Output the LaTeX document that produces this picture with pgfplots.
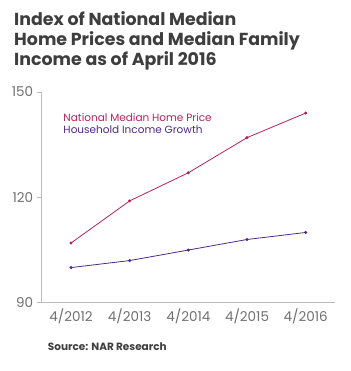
\documentclass[border=0pt]{standalone}
\usepackage{fontspec}
\setmainfont{Poppins}
\usepackage{pgfplots}
\pgfplotsset{compat=1.18}
\definecolor{homec}{HTML}{B3245E}
\definecolor{incc}{HTML}{4E2A84}
\definecolor{titc}{HTML}{3E3E3E}
\definecolor{tickc}{HTML}{707070}
\definecolor{axc}{HTML}{BBBBBB}
\begin{document}
\begin{tikzpicture}
\path[use as bounding box] (0pt,0pt) rectangle (350pt,-371pt);
\node[anchor=base west, inner sep=0, font=\fontsize{17.4}{20}\selectfont\bfseries, text=titc] at (14pt,-26pt) {Index of National Median};
\node[anchor=base west, inner sep=0, font=\fontsize{17.4}{20}\selectfont\bfseries, text=titc] at (14pt,-46pt) {Home Prices and Median Family};
\node[anchor=base west, inner sep=0, font=\fontsize{17.4}{20}\selectfont\bfseries, text=titc] at (14pt,-66pt) {Income as of April 2016};
\node[anchor=base west, inner sep=0, font=\fontsize{10.5}{12}\selectfont\bfseries, text=titc] at (47.7pt,-350pt) {Source: NAR Research};
\begin{axis}[
  at={(41.7pt,-302.7pt)}, anchor=south west,
  scale only axis, width=293.3pt, height=210.7pt,
  xmin=-0.5, xmax=4.5, ymin=90, ymax=150,
  axis lines*=left,
  axis line style={axc, line width=0.8pt, -},
  xtick={0,1,2,3,4},
  xticklabels={4/2012,4/2013,4/2014,4/2015,4/2016},
  major x tick style={draw=none},
  extra x ticks={0.5,1.5,2.5,3.5,4.5},
  extra x tick labels={},
  extra x tick style={major tick length=5pt, tick style={axc, line width=0.8pt}, tick align=outside},
  ytick={90,120,150},
  y tick style={axc, line width=0.8pt},
  tick align=outside,
  major tick length=5pt,
  ticklabel style={text=tickc, font=\fontsize{13.5}{15}\selectfont},
  /pgf/number format/assume math mode=true,
  xticklabel style={yshift=2pt},
  clip=false,
]
\addplot[homec, line width=0.8pt, mark=*, mark size=1.1pt] coordinates {(0,107) (1,119) (2,127) (3,137) (4,144)};
\addplot[incc, line width=0.8pt, mark=*, mark size=1.1pt] coordinates {(0,100) (1,102) (2,105) (3,108) (4,110)};
\node[anchor=base west, inner sep=0, text=homec, font=\fontsize{10.5}{12}\selectfont] at (axis cs:-0.132,141.5) {National Median Home Price};
\node[anchor=base west, inner sep=0, text=incc, font=\fontsize{10.5}{12}\selectfont] at (axis cs:-0.132,138.1) {Household Income Growth};
\end{axis}
\end{tikzpicture}
\end{document}
